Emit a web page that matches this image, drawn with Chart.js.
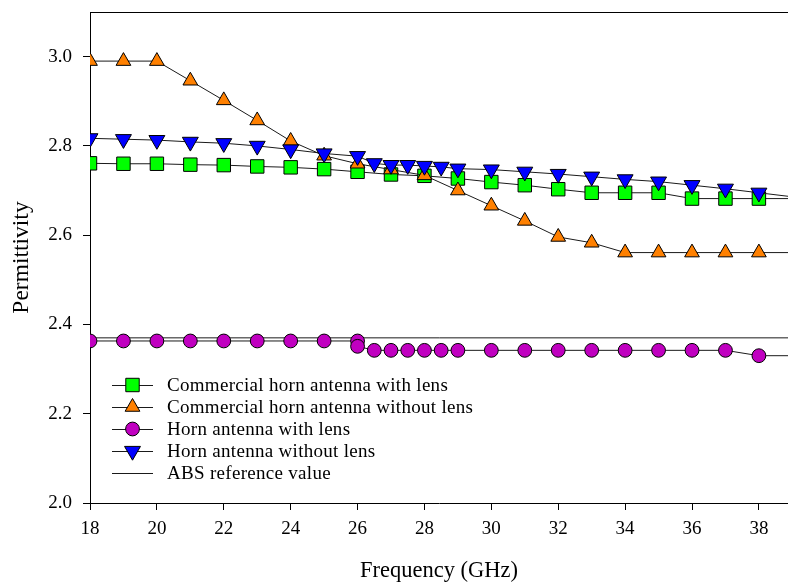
<!DOCTYPE html>
<html>
<head>
<meta charset="utf-8">
<script src="https://cdn.jsdelivr.net/npm/chart.js@4.4.1/dist/chart.umd.min.js"></script>
<style>
  html, body { margin: 0; padding: 0; background: #ffffff; }
  #wrap { width: 788px; height: 582px; position: relative; }
</style>
</head>
<body>
<div id="wrap"><canvas id="chart"></canvas></div>
<script>
// Frequencies (GHz) and measured permittivity for each antenna setup.
// The last point of each series sits just past the right edge of the plot,
// so the connecting line runs on to the border.
const freqCommercial = [18, 19, 20, 21, 22, 23, 24, 25, 26, 27, 28, 29, 30, 31, 32, 33, 34, 35, 36, 37, 38, 39];
const commercialWithLens = [2.761, 2.760, 2.760, 2.758, 2.757, 2.754, 2.752, 2.748, 2.742, 2.736, 2.733, 2.727, 2.719, 2.712, 2.703, 2.695, 2.695, 2.695, 2.682, 2.682, 2.682, 2.682];
const commercialWithoutLens = [2.990, 2.990, 2.990, 2.946, 2.902, 2.857, 2.811, 2.778, 2.760, 2.747, 2.734, 2.700, 2.666, 2.632, 2.596, 2.583, 2.561, 2.561, 2.561, 2.561, 2.561, 2.561];

const freqHornWithLens = [18, 19, 20, 21, 22, 23, 24, 25, 26, 26, 26.5, 27, 27.5, 28, 28.5, 29, 30, 31, 32, 33, 34, 35, 36, 37, 38, 39];
const hornWithLens = [2.363, 2.363, 2.363, 2.363, 2.363, 2.363, 2.363, 2.363, 2.363, 2.351, 2.342, 2.342, 2.342, 2.342, 2.342, 2.342, 2.342, 2.342, 2.342, 2.342, 2.342, 2.342, 2.342, 2.342, 2.330, 2.330];

const freqHornWithoutLens = [18, 19, 20, 21, 22, 23, 24, 25, 26, 26.5, 27, 27.5, 28, 28.5, 29, 30, 31, 32, 33, 34, 35, 36, 37, 38, 39];
const hornWithoutLens = [2.817, 2.815, 2.813, 2.809, 2.806, 2.800, 2.792, 2.783, 2.777, 2.761, 2.757, 2.757, 2.755, 2.753, 2.749, 2.747, 2.742, 2.737, 2.731, 2.725, 2.720, 2.712, 2.704, 2.695, 2.686];

const freqAbs = [18, 39];
const absReference = [2.37, 2.37];

const seriesLabels = [
  'Commercial horn antenna with lens',
  'Commercial horn antenna without lens',
  'Horn antenna with lens',
  'Horn antenna without lens',
  'ABS reference value'
];

const xTickStart = 18;
const xTickStep = 2;
const yTicks = [2.0, 2.2, 2.4, 2.6, 2.8, 3.0];

const SERIF = '"Liberation Serif", "Times New Roman", serif';
const LAST_MEASURED = 38;

function pairs(xs, ys) {
  return xs.map((x, i) => ({ x: x, y: ys[i] }));
}

function markerRadius(r) {
  // points beyond the last measured frequency only carry the line
  return ctx => (ctx.raw && ctx.raw.x > LAST_MEASURED ? 0 : r);
}

function series(label, xs, ys, style, color, radius, rotation, order) {
  return {
    label: label,
    data: pairs(xs, ys),
    borderColor: '#1a1a1a',
    borderWidth: 1,
    tension: 0,
    pointStyle: style,
    pointRotation: rotation,
    pointBackgroundColor: color,
    pointBorderColor: '#000000',
    pointBorderWidth: 1,
    pointRadius: style ? markerRadius(radius) : 0,
    pointHoverRadius: style ? markerRadius(radius) : 0,
    keyRadius: radius,
    order: order
  };
}

const datasets = [
  series(seriesLabels[0], freqCommercial, commercialWithLens, 'rect', '#00ff00', 9.5, 0, 3),
  series(seriesLabels[1], freqCommercial, commercialWithoutLens, 'triangle', '#ff8000', 8.5, 0, 2),
  series(seriesLabels[2], freqHornWithLens, hornWithLens, 'circle', '#c000c0', 6.9, 0, 1),
  series(seriesLabels[3], freqHornWithoutLens, hornWithoutLens, 'triangle', '#0000ff', 9.2, 180, 0),
  series(seriesLabels[4], freqAbs, absReference, false, '#000000', 0, 0, 4)
];

// Frame line along the top of the plot area
const topFrame = {
  id: 'topFrame',
  afterDraw(chart) {
    const { ctx, chartArea } = chart;
    ctx.save();
    ctx.strokeStyle = '#000000';
    ctx.lineWidth = 1;
    ctx.beginPath();
    ctx.moveTo(chartArea.left, chartArea.top + 0.5);
    ctx.lineTo(chartArea.right, chartArea.top + 0.5);
    ctx.stroke();
    ctx.restore();
  }
};

// Key inside the plot: a short line with the series marker, then its name
const seriesKey = {
  id: 'seriesKey',
  afterDraw(chart) {
    const ctx = chart.ctx;
    const lineStart = 112, lineEnd = 153, markX = 132.5, textX = 167;
    const firstRow = 385, rowGap = 22;
    chart.data.datasets.forEach((ds, i) => {
      const y = firstRow + i * rowGap;
      ctx.save();
      ctx.strokeStyle = ds.borderColor;
      ctx.lineWidth = 1;
      ctx.beginPath();
      ctx.moveTo(lineStart, y + 0.5);
      ctx.lineTo(lineEnd, y + 0.5);
      ctx.stroke();
      if (ds.pointStyle) {
        ctx.fillStyle = ds.pointBackgroundColor;
        ctx.strokeStyle = ds.pointBorderColor;
        ctx.lineWidth = ds.pointBorderWidth;
        Chart.helpers.drawPoint(ctx, {
          pointStyle: ds.pointStyle,
          rotation: ds.pointRotation,
          radius: ds.keyRadius,
          borderWidth: ds.pointBorderWidth
        }, markX, y);
      }
      ctx.fillStyle = '#000000';
      ctx.font = '19px ' + SERIF;
      ctx.letterSpacing = '0.3px';
      ctx.textBaseline = 'middle';
      ctx.textAlign = 'left';
      ctx.fillText(ds.label, textX, y + 1);
      ctx.restore();
    });
  }
};

new Chart(document.getElementById('chart'), {
  type: 'line',
  data: { datasets: datasets },
  plugins: [topFrame, seriesKey],
  options: {
    responsive: true,
    maintainAspectRatio: false,
    animation: false,
    events: [],
    layout: { autoPadding: false, padding: { top: 12, right: 0, bottom: 0, left: 0 } },
    plugins: {
      legend: { display: false },
      tooltip: { enabled: false },
      title: { display: false }
    },
    scales: {
      x: {
        type: 'linear',
        min: 18,
        max: 38.87,
        afterFit: s => {
          s.height = 79;
          s.paddingLeft = 0; s.paddingRight = 0;
          s.paddingTop = 0; s.paddingBottom = 0;
        },
        border: { display: true, color: '#000000', width: 1 },
        grid: { display: true, drawOnChartArea: false, drawTicks: true, tickLength: 7, color: '#000000' },
        afterBuildTicks: s => {
          s.ticks = [];
          for (let v = xTickStart; v <= s.max; v += xTickStep) s.ticks.push({ value: v });
        },
        ticks: {
          color: '#000000',
          padding: 8,
          maxRotation: 0,
          autoSkip: false,
          font: { family: SERIF, size: 19 }
        },
        title: {
          display: true,
          text: 'Frequency (GHz)',
          color: '#000000',
          padding: 0,
          font: { family: SERIF, size: 22.5, lineHeight: 1 }
        }
      },
      y: {
        type: 'linear',
        min: 2.0,
        max: 3.1,
        afterFit: s => {
          s.width = 90;
          s.paddingLeft = 0; s.paddingRight = 0;
          s.paddingTop = 0; s.paddingBottom = 0;
        },
        border: { display: true, color: '#000000', width: 1 },
        grid: { display: true, drawOnChartArea: false, drawTicks: true, tickLength: 7, color: '#000000' },
        afterBuildTicks: s => { s.ticks = yTicks.map(v => ({ value: v })); },
        ticks: {
          color: '#000000',
          padding: 11,
          callback: v => Number(v).toFixed(1),
          font: { family: SERIF, size: 19 }
        },
        title: {
          display: true,
          text: 'Permittivity',
          color: '#000000',
          padding: { top: 10, bottom: 0 },
          font: { family: SERIF, size: 23.5, lineHeight: 1 }
        }
      }
    }
  }
});
</script>
</body>
</html>
